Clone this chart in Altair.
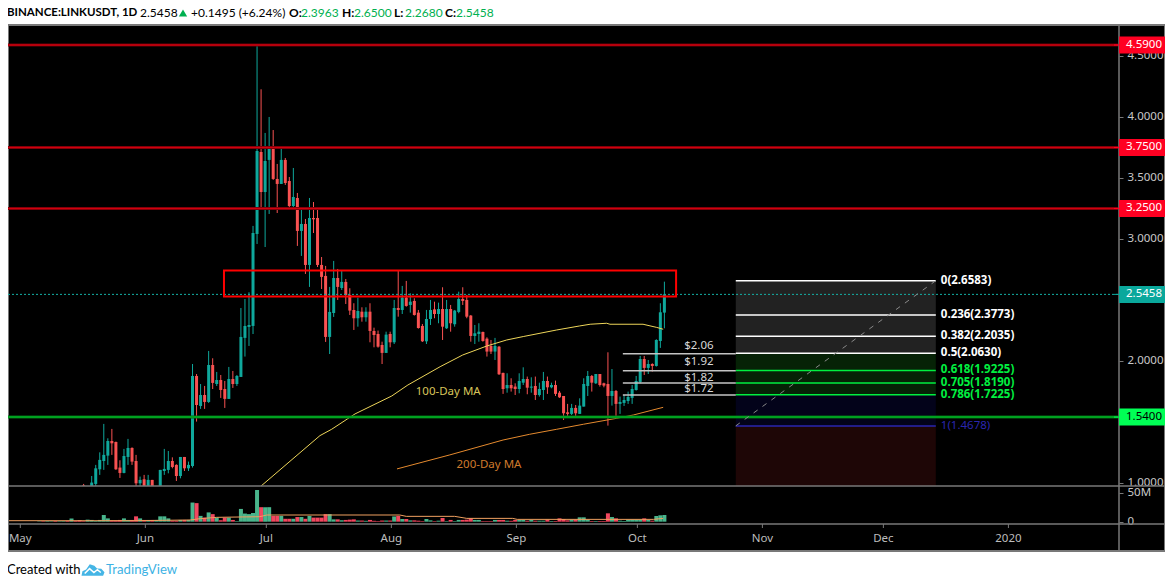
import altair as alt
import pandas as pd

first_day = 16
opens = [.98,.94,.97,.992,1.112,1.180,1.224,1.344,1.336,1.126,1.082,1.213,1.287,1.180,.997,1.030,.96,1.025,.93,.95,
 1.098,1.107,1.180,1.148,1.057,1.213,1.120,1.139,1.877,1.631,1.721,1.664,1.967,1.811,1.844,1.770,1.689,1.852,1.811,1.869,
 2.189,2.279,2.287,3.041,3.713,3.385,3.648,3.754,3.492,3.451,3.648,3.475,3.270,3.336,3.066,3.123,2.787,3.172,3.172,2.787,
 2.697,2.197,2.393,2.680,2.598,2.648,2.541,2.418,2.350,2.404,2.358,2.404,2.246,2.221,2.131,2.066,2.221,2.153,2.434,2.418,
 2.519,2.459,2.492,2.396,2.287,2.161,2.344,2.423,2.385,2.426,2.268,2.426,2.301,2.402,2.508,2.500,2.372,2.205,2.221,2.238,
 2.183,2.123,2.077,2.117,1.902,1.776,1.803,1.790,1.770,1.822,1.852,1.781,1.795,1.721,1.762,1.836,1.784,1.803,1.740,1.713,
 1.579,1.566,1.615,1.566,1.626,1.795,1.877,1.817,1.893,1.817,1.811,1.713,1.754,1.648,1.656,1.672,1.697,1.762,1.828,2.016,
 1.943,1.975,1.959,2.164,2.3963]
highs = [.992,.96,1.057,1.148,1.251,1.484,1.366,1.443,1.339,1.186,1.279,1.361,1.292,1.230,1.052,1.066,1.066,1.025,.96,1.107,
 1.279,1.262,1.210,1.153,1.213,1.213,1.175,1.975,1.893,1.811,1.795,2.082,2.022,1.910,1.885,1.836,1.951,1.918,1.885,2.434,
 2.508,2.563,3.107,4.590,4.227,3.869,4.000,3.893,3.615,3.754,3.664,3.508,3.582,3.377,3.262,3.164,3.336,3.303,3.246,2.852,
 2.779,2.607,2.820,2.754,2.738,2.672,2.596,2.473,2.519,2.440,2.440,2.473,2.273,2.249,2.158,2.240,2.240,2.500,2.738,2.615,
 2.656,2.555,2.514,2.418,2.303,2.418,2.500,2.486,2.478,2.604,2.500,2.459,2.418,2.568,2.604,2.541,2.377,2.295,2.309,2.240,
 2.194,2.172,2.189,2.123,1.904,1.899,1.858,1.817,1.899,1.948,1.872,1.866,1.872,1.822,1.910,1.872,1.822,1.839,1.754,1.713,
 1.648,1.648,1.639,1.694,1.858,1.918,1.885,1.893,1.893,1.822,2.071,1.934,1.762,1.708,1.721,1.749,1.803,1.877,2.041,2.041,
 2.008,1.981,2.178,2.473,2.6500]
lows = [.95,.93,.96,.970,1.066,1.107,1.148,1.230,1.107,1.041,1.079,1.148,1.148,.970,.970,.94,.95,.95,.92,.94,
 1.066,1.079,1.120,1.016,1.038,1.098,1.098,1.126,1.503,1.607,1.607,1.656,1.770,1.795,1.697,1.615,1.689,1.779,1.795,1.869,
 2.036,2.123,2.221,2.959,3.238,2.934,3.205,3.484,3.213,3.451,3.443,3.254,3.254,2.943,2.861,2.713,2.607,3.049,2.770,2.590,
 2.156,2.057,2.361,2.500,2.582,2.467,2.377,2.254,2.281,2.322,2.322,2.153,2.112,2.109,1.975,2.066,2.112,2.139,2.363,2.385,
 2.445,2.396,2.372,2.265,2.156,2.139,2.295,2.350,2.309,2.172,2.262,2.240,2.281,2.391,2.459,2.350,2.158,2.139,2.158,2.158,
 2.036,2.057,2.008,1.885,1.730,1.740,1.749,1.721,1.735,1.803,1.727,1.740,1.680,1.708,1.680,1.730,1.776,1.713,1.697,1.516,
 1.538,1.557,1.538,1.566,1.626,1.713,1.749,1.811,1.790,1.784,1.470,1.634,1.530,1.566,1.631,1.648,1.648,1.757,1.817,1.885,
 1.893,1.913,1.954,2.107,2.2680]
closes = [.96,.95,1.003,1.120,1.189,1.230,1.344,1.325,1.112,1.082,1.221,1.287,1.175,.997,1.025,.956,1.025,.96,.95,1.107,
 1.115,1.180,1.131,1.057,1.213,1.120,1.148,1.877,1.639,1.721,1.664,1.967,1.820,1.844,1.762,1.689,1.852,1.811,1.877,2.197,
 2.287,2.295,3.049,3.721,3.385,3.639,3.754,3.492,3.451,3.648,3.459,3.270,3.344,3.066,3.123,2.787,3.172,3.161,2.787,2.689,
 2.197,2.402,2.680,2.607,2.648,2.541,2.413,2.350,2.410,2.358,2.404,2.246,2.213,2.117,2.066,2.216,2.153,2.434,2.418,2.519,
 2.451,2.486,2.377,2.270,2.161,2.344,2.418,2.385,2.426,2.281,2.426,2.309,2.413,2.508,2.492,2.363,2.205,2.227,2.240,2.164,
 2.077,2.077,2.123,1.891,1.770,1.803,1.776,1.770,1.836,1.852,1.781,1.790,1.721,1.770,1.836,1.784,1.803,1.730,1.702,1.571,
 1.566,1.615,1.571,1.634,1.811,1.877,1.822,1.893,1.803,1.798,1.713,1.754,1.648,1.664,1.680,1.705,1.770,1.836,2.016,1.943,
 1.975,1.959,2.172,2.399,2.5458]

# ---- volume (millions), from day 5 on
vol_first_day = 5
vol_early_up = [True,False,True,True,False,True,True,False,True,False,False]
volumes = [.6,.9,1.0,.8,1.2,.9,1.0,1.5,5.5,1.5,2.5,
 1.0,3.5,3.0,1.2,3.0,11.5,5.7,2.3,2.3,3.0,5.7,3.0,3.0,9.2,5.7,3.0,3.0,3.0,3.0,9.2,9.2,5.7,1.7,1.7,3.0,3.0,3.0,
 33,32,10,7,16,13,7,2.5,7,7,3,1,22,14,13,15,54.6,25,25,25,10,10,10,5,5,5,8,8,5,10,7,7,7,13,13,4,4,2.5,3,3.5,4,
 2,2,1.5,3,1.5,1,2,2,2,9,10,4.6,4.6,2.3,2.3,1.7,1,4.6,2.3,1,1.7,6.3,1,3,1,3,3,3.5,5.7,3,3,1,1,1,3,3,3,1.7,1.5,3,3,3,
 1.7,3,1.7,1.7,1.7,3.5,1.2,1.2,5.7,4.6,2.3,3.5,3.5,7.5,7.5,3.5,1.2,1.2,1.2,1.2,14.4,8,5.7,1.7,1.2,3.5,3.5,3.5,3.5,5.7,3,1.7,9.8,11,11.5]

vma_days = [-2.7,28.3,42.4,44.9,49,59.7,61.4,94.4,96,108,111,122.4,123.5,157.3,159.7]
vma_vals = [1.7,1.7,2.9,5.2,7.5,8.6,11.5,11.5,9.2,9.2,5.7,5.7,4,4,5.7]

ma100_days = [60,74.6,77.5,83.3,92.4,96.4,104.4,110,116,120.9,125,133.3,139,141.6,145.7,146.5,154.7,158.1,159.7]
ma100_vals = [.975,1.388,1.440,1.566,1.713,1.803,1.953,2.049,2.123,2.172,2.2,2.254,2.287,2.301,2.309,2.301,2.301,2.275,2.260]
ma200_days = [93.7,106.8,120,126.6,133.3,139.9,148.2,152.3,159.7]
ma200_vals = [1.115,1.230,1.352,1.399,1.440,1.481,1.530,1.557,1.620]

red_levels = [4.59,3.75,3.25]
green_level = 1.54
last_price = 2.5458
box = dict(d0=50.8, d1=162.9, top=2.742, bottom=2.529)

fib_ratio = ["0","0.236","0.382","0.5","0.618","0.705","0.786","1"]
fib_price = [2.6583,2.3773,2.2035,2.0630,1.9225,1.8190,1.7225,1.4678]
fib_color = ["#ffffff","#ffffff","#ffffff","#ffffff","#00f040","#00f040","#00f040","#2a26b0"]
fib_start, fib_end = 177.7, 227.3
fib_floor = 0.975
band_top = [2.6583,2.0630,1.7225,1.4678]
band_bot = [2.0630,1.7225,1.4678,fib_floor]
band_col = ["#222222","#062206","#03031a","#1e0606"]

mark_prices = [2.06,1.92,1.82,1.72]
mark_text_y = [2.123,1.992,1.861,1.770]
mark_start = 149.7

tick_days = [0.3,31.3,61.3,92.3,123.3,153.3,184.3,214.3,245.3]
tick_names = ["May","Jun","Jul","Aug","Sep","Oct","Nov","Dec","2020"]
price_ticks = [1.0,1.5,2.0,2.5,3.0,3.5,4.0,4.5]

FONT = "Noto Sans"
UI_FONT = "Lato"
UP, DOWN = "#0fa89c", "#f95252"
VUP, VDOWN = "#49b58c", "#f2475f"

candles = pd.DataFrame({"day":[first_day+i for i in range(len(opens))],"o":opens,"h":highs,"l":lows,"c":closes})
candles["dir"] = ["up" if c>=o else "down" for o,c in zip(opens,closes)]
up_by_day = dict(zip(candles.day, candles.c>=candles.o))
vol = pd.DataFrame({"day":[vol_first_day+i for i in range(len(volumes))],"v":volumes})
vol["dir"] = [("vup" if (vol_early_up[d-vol_first_day] if d<first_day else up_by_day[d]) else "vdown") for d in vol.day]

XS = alt.Scale(domain=[-2.752,272.72],nice=False,zero=False,padding=0)
PS = alt.Scale(domain=[0.975,4.754],range=[461,0],nice=False,zero=False,clamp=True)
VS = alt.Scale(domain=[-4,59.8],range=[499,462],nice=False,zero=False)
CS = alt.Scale(domain=["up","down","vup","vdown"],range=[UP,DOWN,VUP,VDOWN])
dummy = pd.DataFrame({"a":[0]})

def X(f): return alt.X(f"{f}:Q",scale=XS,axis=None,title=None)
def P(f): return alt.Y(f"{f}:Q",scale=PS,axis=None,title=None)
def P2(f): return alt.Y2(f"{f}:Q")
def V(f): return alt.Y(f"{f}:Q",scale=VS,axis=None,title=None,stack=None)
def COL(): return alt.Color("dir:N",scale=CS,legend=None)

def box_px(x0,x1,y0,y1,**kw):
    return alt.Chart(dummy).mark_rect(**kw).encode(x=alt.value(x0),x2=alt.value(x1),y=alt.value(y0),y2=alt.value(y1))
def label(x,y,s,color="#000000",size=12,bold=False,font=UI_FONT,align="left"):
    return alt.Chart(dummy).mark_text(text=s,color=color,fontSize=size,font=font,align=align,baseline="middle",
        fontWeight="bold" if bold else "normal").encode(x=alt.value(x),y=alt.value(y))

RIGHT = 1157
layers = []
# page furniture: background is black, the paper outside the frame is painted white
layers += [box_px(-20,1300,-40,0,color="#ffffff"), box_px(-20,1300,526,600,color="#ffffff"), box_px(RIGHT,1300,-40,600,color="#ffffff")]

# fib bands
bands = pd.DataFrame({"a":[fib_start]*4,"b":[fib_end]*4,"t":band_top,"u":band_bot,"col":band_col})
layers.append(alt.Chart(bands).mark_rect().encode(x=X("a"),x2="b:Q",y=P("t"),y2=P2("u"),color=alt.Color("col:N",scale=None,legend=None)))

# time axis
ticks = pd.DataFrame({"d":tick_days,"t":tick_names})
layers.append(alt.Chart(ticks).mark_rule(color="#787878",strokeWidth=1).encode(x=X("d"),y=alt.value(499),y2=alt.value(503)))
layers.append(alt.Chart(ticks).mark_text(color="#bdbdbd",font=FONT,fontSize=11.5,baseline="middle").encode(x=X("d"),y=alt.value(514),text="t:N"))

# wicks and bodies
layers.append(alt.Chart(candles).mark_rule(strokeWidth=1).encode(x=X("day"),y=P("l"),y2=P2("h"),color=COL()))
layers.append(alt.Chart(candles).mark_bar(size=3).encode(x=X("day"),y=P("o"),y2=P2("c"),color=COL()))

# moving averages
layers.append(alt.Chart(pd.DataFrame({"d":ma100_days,"p":ma100_vals})).mark_line(color="#eed65a",strokeWidth=1).encode(x=X("d"),y=P("p")))
layers.append(alt.Chart(pd.DataFrame({"d":ma200_days,"p":ma200_vals})).mark_line(color="#e58a2e",strokeWidth=1).encode(x=X("d"),y=P("p")))

# volume
vaxis = alt.Y("v:Q",scale=VS,title=None,stack=None,axis=alt.Axis(orient="right",values=[0,50],grid=False,domain=False,tickColor="#787878",tickSize=4,
    labelColor="#c8c8c8",labelFontSize=11.5,labelFont=FONT,labelPadding=4,labelExpr="datum.value==0?'0':'50M'"))
layers.append(alt.Chart(vol).mark_bar(size=4).encode(x=X("day"),y=vaxis,color=COL()))
layers.append(alt.Chart(pd.DataFrame({"d":vma_days,"v":vma_vals})).mark_line(color="#f0a060",strokeWidth=1).encode(x=X("d"),y=V("v")))

# frame lines
layers += [box_px(0,RIGHT,461,461.01,stroke="#787878",strokeWidth=1),box_px(0,RIGHT,499,499.01,stroke="#787878",strokeWidth=1.5),
           box_px(1111,1111.01,0,526,stroke="#787878",strokeWidth=1),
           box_px(0,RIGHT,0,526,fillOpacity=0,stroke="#787878",strokeWidth=2)]

# price axis, carried by the red level lines
paxis = alt.Y("p:Q",scale=PS,title=None,axis=alt.Axis(orient="right",values=price_ticks,format=".4f",grid=False,domain=False,tickColor="#787878",
    tickSize=4,labelColor="#c8c8c8",labelFontSize=11.5,labelFont=FONT,labelPadding=4))
reds = pd.DataFrame({"p":red_levels})
layers.append(alt.Chart(reds).mark_rule(color="#6a0008",strokeWidth=3).encode(y=paxis,x=alt.value(0),x2=alt.value(1110)))
layers.append(alt.Chart(reds).mark_rule(color="#d0000e",strokeWidth=1.5).encode(y=P("p"),x=alt.value(0),x2=alt.value(1110)))
layers.append(alt.Chart(pd.DataFrame({"p":[green_level]})).mark_rule(color="#006a14",strokeWidth=3).encode(y=P("p"),x=alt.value(0),x2=alt.value(1110)))
layers.append(alt.Chart(pd.DataFrame({"p":[green_level]})).mark_rule(color="#00b424",strokeWidth=1.5).encode(y=P("p"),x=alt.value(0),x2=alt.value(1110)))
layers.append(alt.Chart(pd.DataFrame({"p":[last_price]})).mark_rule(color="#14b0a6",strokeWidth=1,strokeDash=[2,2]).encode(y=P("p"),x=alt.value(0),x2=alt.value(1110)))

# red box
layers.append(alt.Chart(pd.DataFrame([box])).mark_rect(fillOpacity=0,stroke="#ff0000",strokeWidth=2).encode(x=X("d0"),x2="d1:Q",y=P("top"),y2=P2("bottom")))

# fib lines and texts
fib = pd.DataFrame({"p":fib_price,"col":fib_color,"a":[fib_start]*8,"b":[fib_end]*8,
    "t":[f"{r}({p:.4f})" for r,p in zip(fib_ratio,fib_price)]})
layers.append(alt.Chart(fib).mark_rule(strokeWidth=1.5).encode(x=X("a"),x2="b:Q",y=P("p"),color=alt.Color("col:N",scale=None,legend=None)))
layers.append(alt.Chart(fib[fib.t.str[:2]!="1("]).mark_text(align="left",baseline="middle",dx=5,font=FONT,fontSize=11.5,fontWeight="bold").encode(
    x=X("b"),y=P("p"),text="t:N",color=alt.Color("col:N",scale=None,legend=None)))
layers.append(alt.Chart(fib[fib.t.str[:2]=="1("]).mark_text(align="left",baseline="middle",dx=5,font=FONT,fontSize=11.5).encode(
    x=X("b"),y=P("p"),text="t:N",color=alt.Color("col:N",scale=None,legend=None)))
layers.append(alt.Chart(pd.DataFrame({"d":[fib_start,fib_end],"p":[fib_price[-1],fib_price[0]]})).mark_line(color="#8a8a8a",strokeWidth=1,strokeDash=[5,6]).encode(x=X("d"),y=P("p")))

# target marks
marks = pd.DataFrame({"p":mark_prices,"ty":mark_text_y,"a":[mark_start]*4,"b":[fib_start]*4,"tx":[164.9]*4,"t":[f"${v:.2f}" for v in mark_prices]})
layers.append(alt.Chart(marks).mark_rule(color="#c4c4c4",strokeWidth=1.5).encode(x=X("a"),x2="b:Q",y=P("p")))
layers.append(alt.Chart(marks).mark_text(align="left",baseline="middle",color="#d8d8d8",font=FONT,fontSize=11.5).encode(x=X("tx"),y=P("ty"),text="t:N"))

# MA captions
layers.append(alt.Chart(pd.DataFrame({"d":[106.4],"p":[1.746],"t":["100-Day MA"]})).mark_text(color="#d8c45a",font=FONT,fontSize=11.5,baseline="middle").encode(x=X("d"),y=P("p"),text="t:N"))
layers.append(alt.Chart(pd.DataFrame({"d":[116.5],"p":[1.148],"t":["200-Day MA"]})).mark_text(color="#cf7a2c",font=FONT,fontSize=11.5,baseline="middle").encode(x=X("d"),y=P("p"),text="t:N"))

# price tags
tags = pd.DataFrame({"p":red_levels+[last_price,green_level],"bg":["#ff0022"]*3+["#0aa89c","#00ff55"],"fg":["#ffffff"]*4+["#000000"]})
tags["t"] = [f"{v:.4f}" for v in tags.p]
layers.append(alt.Chart(tags).mark_rule(strokeWidth=17).encode(x=alt.value(1111),x2=alt.value(RIGHT),y=P("p"),color=alt.Color("bg:N",scale=None,legend=None)))
layers.append(alt.Chart(tags).mark_rule(strokeWidth=1).encode(x=alt.value(1106),x2=alt.value(1111),y=P("p"),color=alt.Color("bg:N",scale=None,legend=None)))
layers.append(alt.Chart(tags).mark_text(align="center",baseline="middle",font=FONT,fontSize=11.5).encode(x=alt.value(1136),y=P("p"),text="t:N",color=alt.Color("fg:N",scale=None,legend=None)))

# header (plot coordinates: the plot starts at page x 8, y 25)
GREEN_TXT = "#00b050"
HY = -12
layers += [label(-1,HY,"BINANCE:LINKUSDT, 1D",bold=True,size=11.5),label(132,HY,"2.5458"),
   alt.Chart(dummy).mark_point(shape="triangle-up",filled=True,color=GREEN_TXT,size=70,opacity=1).encode(x=alt.value(175),y=alt.value(HY)),
   label(183,HY,"+0.1495 (+6.24%)"),
   label(281,HY,"O:",bold=True),label(293,HY,"2.3963",color=GREEN_TXT),
   label(334,HY,"H:",bold=True),label(346,HY,"2.6500",color=GREEN_TXT),
   label(386,HY,"L:",bold=True),label(397,HY,"2.2680",color=GREEN_TXT),
   label(437,HY,"C:",bold=True),label(448,HY,"2.5458",color=GREEN_TXT)]
# footer
FY = 545
CLOUD = "M-1,.5 L-.92,.1 L-.6,-.05 L-.28,-.5 L.12,-.38 L.35,-.12 L.72,-.1 L1,.2 L.88,.5 Z"
ZIG = "M-.72,.3 L-.3,-.12 L.08,.22 L.38,-.02 L.68,.22"
layers += [label(-1,FY,"Created with",size=13),
   alt.Chart(dummy).mark_point(shape=CLOUD,filled=True,color="#45b5e5",size=529,opacity=1).encode(x=alt.value(85),y=alt.value(FY)),
   alt.Chart(dummy).mark_point(shape=ZIG,filled=False,stroke="#ffffff",strokeWidth=1.5,size=529,opacity=1).encode(x=alt.value(85),y=alt.value(FY)),
   label(98,FY,"TradingView",color="#3db2e4",size=13.2)]

chart = alt.layer(*layers).resolve_scale(y="independent",color="independent").properties(
    width=1111,height=499,background="#000000",
    padding={"left":0,"top":17,"right":46,"bottom":54},
    autosize=alt.AutoSizeParams(type="none")
).configure_view(strokeWidth=0)

chart.save("out.html",embed_options={"renderer":"svg","actions":False})
